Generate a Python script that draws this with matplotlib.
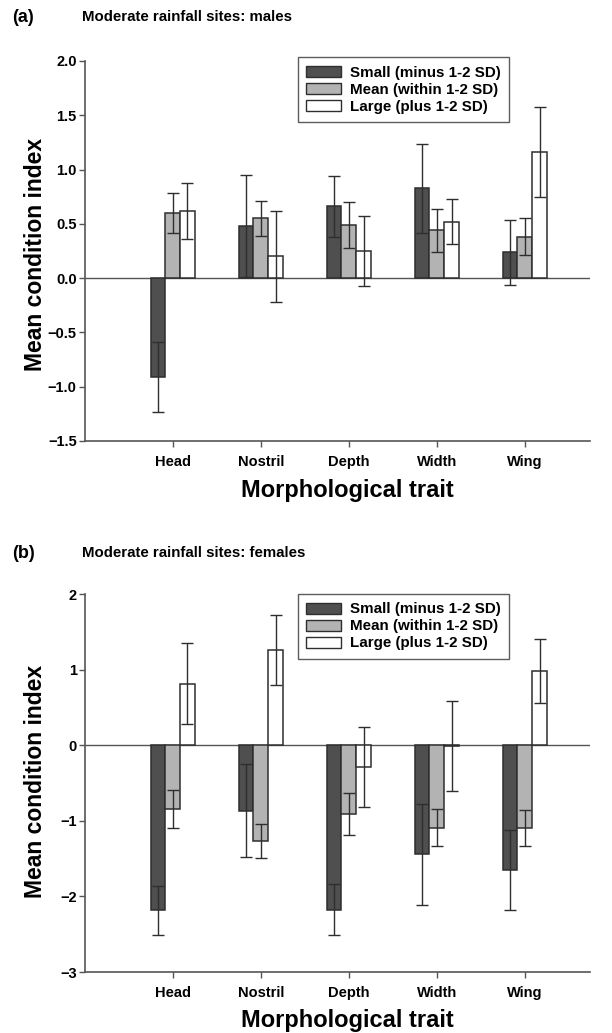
import matplotlib
matplotlib.use("Agg")
import matplotlib.pyplot as plt
from matplotlib.patches import Patch
import numpy as np

plt.rcParams['font.family'] = ['Liberation Sans', 'DejaVu Sans']
plt.rcParams['font.weight'] = 'bold'

traits = ["Head", "Nostril", "Depth", "Width", "Wing"]
groups = ["Small (minus 1-2 SD)", "Mean (within 1-2 SD)", "Large (plus 1-2 SD)"]

# Panel (a): males
males_small = [-0.91, 0.48, 0.66, 0.83, 0.24]
males_small_err = [0.32, 0.47, 0.28, 0.41, 0.30]
males_mean = [0.60, 0.55, 0.49, 0.44, 0.38]
males_mean_err = [0.18, 0.16, 0.215, 0.20, 0.17]
males_large = [0.62, 0.20, 0.25, 0.52, 1.16]
males_large_err = [0.255, 0.42, 0.325, 0.21, 0.415]

# Panel (b): females
fem_small = [-2.185, -0.865, -2.175, -1.445, -1.655]
fem_small_err = [0.325, 0.62, 0.335, 0.665, 0.53]
fem_mean = [-0.84, -1.265, -0.91, -1.09, -1.095]
fem_mean_err = [0.25, 0.225, 0.275, 0.245, 0.24]
fem_large = [0.815, 1.255, -0.29, -0.01, 0.985]
fem_large_err = [0.54, 0.465, 0.525, 0.59, 0.425]

colors = ["#4f4f4f", "#b3b3b3", "#ffffff"]
edge = "#2e2e2e"
axis_col = "#555555"

fig = plt.figure(figsize=(6.12, 10.33), dpi=100)

def panel(ax, series, errs, yticks, ylim, fmt, leg_top, xlab_y, ylab_y):
    x = np.arange(len(traits))
    w = 0.168
    for i, (vals, err) in enumerate(zip(series, errs)):
        ax.bar(x + (i - 1) * w, vals, width=w, color=colors[i], edgecolor=edge,
               linewidth=1.1, zorder=2)
        ax.errorbar(x + (i - 1) * w, vals, yerr=err, fmt='none', ecolor=edge,
                    elinewidth=1.0, capsize=4.3, capthick=1.0, zorder=3)
    ax.axhline(0, color=axis_col, lw=1.0, zorder=1)
    ax.set_xlim(-0.996, 4.74)
    ax.set_ylim(*ylim)
    ax.set_yticks(yticks)
    ax.set_yticklabels([fmt.format(v).replace('-', '\u2212') for v in yticks])
    ax.set_xticks(x)
    ax.set_xticklabels(traits)
    for s in ['top', 'right']:
        ax.spines[s].set_visible(False)
    for s in ['left', 'bottom']:
        ax.spines[s].set_color(axis_col)
        ax.spines[s].set_linewidth(1.2)
    ax.tick_params(axis='both', colors=axis_col, labelcolor='black', width=1.0,
                   length=4, labelsize=10.5)
    ax.tick_params(axis='y', pad=2)
    ax.tick_params(axis='x', pad=6)
    ax.set_ylabel("Mean condition index", fontsize=16.5, fontweight='bold', va='center')
    ax.yaxis.set_label_coords(-0.099, ylab_y)
    ax.set_xlabel("Morphological trait", fontsize=17, fontweight='bold', va='center')
    ax.xaxis.set_label_coords(0.52, xlab_y)
    handles = [Patch(facecolor=colors[i], edgecolor=edge, linewidth=1.0, label=groups[i])
               for i in range(3)]
    leg = ax.legend(handles=handles, loc='upper left', bbox_to_anchor=(0.422, leg_top),
                    frameon=True, fancybox=False, edgecolor='#333333', fontsize=10.9,
                    handlelength=2.3, handleheight=0.75, labelspacing=0.2,
                    borderpad=0.55, handletextpad=0.55, borderaxespad=0)
    leg.get_frame().set_linewidth(1.0)
    for t in leg.get_texts():
        t.set_fontweight('bold')

axa = fig.add_axes([85/612, (1033-441)/1033, 505/612, 380/1033])
panel(axa, [males_small, males_mean, males_large],
      [males_small_err, males_mean_err, males_large_err],
      [-1.5, -1.0, -0.5, 0.0, 0.5, 1.0, 1.5, 2.0], (-1.5, 2.0), "{:.1f}", 1.01,
      -0.129, 0.492)

axb = fig.add_axes([85/612, (1033-972)/1033, 505/612, 378/1033])
panel(axb, [fem_small, fem_mean, fem_large],
      [fem_small_err, fem_mean_err, fem_large_err],
      [-3, -2, -1, 0, 1, 2], (-3, 2), "{:d}", 1.0,
      -0.127, 0.505)

fig.text(12/612, 1 - 17/1033, "(a)", fontsize=13, fontweight='bold', va='center', ha='left')
fig.text(82/612, 1 - 17/1033, "Moderate rainfall sites: males", fontsize=10.8,
         fontweight='bold', va='center', ha='left')
fig.text(12/612, 1 - 553/1033, "(b)", fontsize=13, fontweight='bold', va='center', ha='left')
fig.text(82/612, 1 - 553/1033, "Moderate rainfall sites: females", fontsize=10.8,
         fontweight='bold', va='center', ha='left')

fig.savefig("out.png", dpi=100)
